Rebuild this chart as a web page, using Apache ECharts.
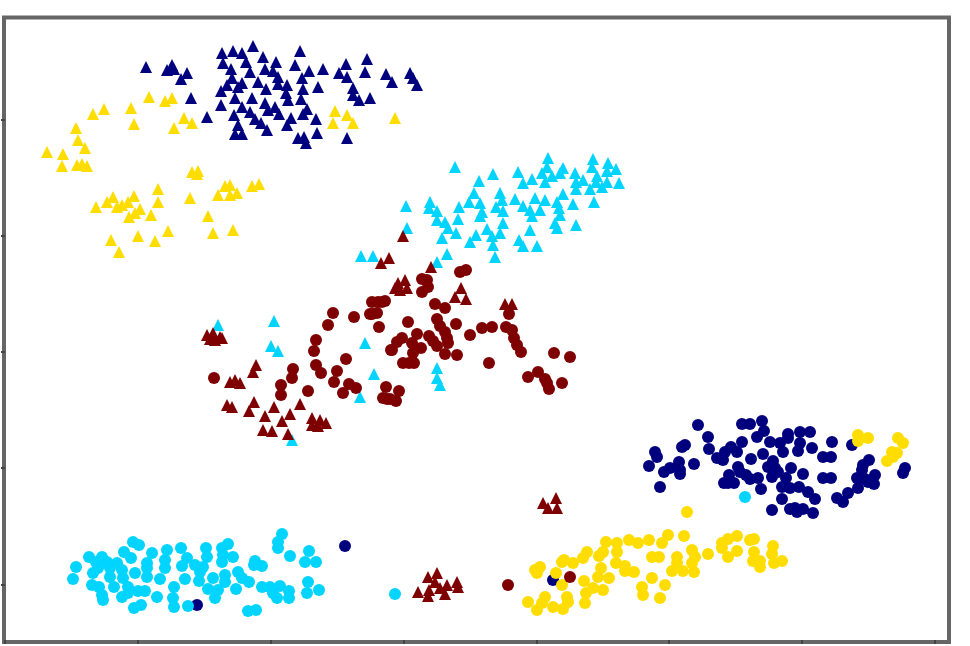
<!DOCTYPE html>
<html><head><meta charset="utf-8">
<style>html,body{margin:0;padding:0;background:#fff}#c{width:970px;height:646px;filter:blur(0.4px)}</style>
<script src="https://cdn.jsdelivr.net/npm/echarts@6/dist/echarts.min.js"></script>
</head><body><div id="c"></div>
<script>
const xTicks=[0,133,266,399,532,664,797,930];
const yTicks=[55,172,288,404,520];
const navyTriangles=[[141,573],[167,575],[162,570],[169,571],[182,567],[176,561],[186,542],[202,523],[217,587],[228,589],[237,587],[248,594],[258,583],[241,578],[218,577],[226,571],[245,568],[271,578],[260,571],[268,569],[290,575],[295,589],[304,569],[318,571],[227,562],[237,557],[233,553],[222,555],[216,549],[253,558],[261,551],[273,563],[273,556],[282,555],[281,547],[297,562],[298,551],[313,553],[283,540],[296,541],[230,542],[247,542],[216,535],[237,533],[245,528],[229,525],[260,537],[263,530],[270,533],[274,526],[302,531],[298,526],[286,522],[282,515],[311,521],[250,521],[256,517],[262,510],[233,515],[230,506],[237,506],[312,507],[293,502],[299,503],[301,497],[342,502],[341,576],[362,581],[360,568],[334,567],[342,563],[381,566],[387,558],[405,567],[408,562],[412,555],[348,552],[348,545],[354,540],[365,542]];
const yellowTriangles=[[330,529],[342,525],[328,517],[348,517],[390,522],[144,543],[160,539],[167,542],[126,532],[99,531],[88,526],[71,512],[129,516],[169,512],[179,522],[187,517],[73,500],[80,492],[42,488],[58,486],[57,474],[72,475],[77,476],[82,474],[187,468],[193,469],[192,466],[220,454],[225,455],[213,445],[225,445],[232,447],[247,454],[254,456],[185,442],[153,451],[153,438],[129,444],[123,438],[108,443],[102,438],[91,433],[112,433],[117,435],[135,431],[130,427],[124,423],[146,425],[203,424],[208,407],[228,410],[163,409],[133,404],[106,400],[150,399],[114,388]];
const cyanTriangles=[[450,473],[488,466],[474,459],[513,468],[518,457],[527,461],[537,467],[540,458],[543,482],[542,473],[547,464],[558,472],[555,467],[570,467],[571,458],[571,451],[578,460],[588,481],[587,473],[603,477],[602,469],[611,471],[592,464],[591,458],[602,458],[614,457],[597,453],[585,451],[558,446],[589,438],[568,436],[469,447],[495,447],[497,440],[510,441],[530,442],[540,440],[552,438],[554,432],[555,425],[518,434],[525,430],[527,424],[535,430],[491,433],[498,429],[475,437],[464,438],[477,428],[475,424],[454,433],[425,438],[424,432],[432,429],[401,434],[432,420],[453,421],[440,418],[443,412],[451,407],[498,417],[482,411],[495,407],[471,405],[465,398],[437,402],[402,412],[487,404],[488,395],[514,400],[518,394],[532,394],[525,410],[550,417],[552,412],[571,415],[490,383],[442,386],[432,378],[356,384],[368,384],[213,315],[269,319],[266,294],[273,289],[360,297],[369,266],[355,243],[287,200],[432,272],[432,262],[435,255]];
const maroonTriangles=[[398,404],[376,377],[384,382],[426,373],[202,305],[208,307],[215,303],[205,301],[210,300],[217,302],[225,258],[230,260],[235,257],[251,275],[248,268],[222,235],[227,233],[249,238],[244,229],[269,233],[260,224],[258,210],[267,209],[283,206],[285,226],[277,219],[295,236],[307,222],[307,215],[315,220],[313,214],[321,217],[400,360],[393,357],[390,352],[395,350],[402,352],[456,352],[450,343],[461,341],[500,336],[507,336],[432,67],[423,63],[430,58],[413,48],[423,44],[435,52],[442,55],[440,46],[452,58],[453,53],[424,50],[538,137],[551,142],[543,132],[552,132]];
const maroonCircles=[[209,262],[328,327],[349,323],[323,315],[374,313],[367,326],[372,327],[367,338],[377,338],[311,300],[309,289],[341,281],[311,275],[316,267],[332,269],[329,258],[338,247],[344,256],[351,252],[288,271],[287,262],[276,255],[276,245],[303,249],[381,253],[382,241],[387,290],[455,368],[461,370],[417,361],[422,360],[423,353],[417,348],[504,326],[430,336],[440,332],[373,338],[380,339],[365,326],[403,318],[432,321],[435,314],[451,316],[440,308],[442,302],[443,297],[465,305],[477,312],[487,313],[501,313],[507,310],[509,302],[512,295],[516,288],[549,287],[565,283],[484,277],[412,306],[397,302],[392,298],[386,290],[424,304],[428,299],[432,294],[440,286],[452,285],[407,297],[416,292],[408,287],[398,277],[404,277],[409,277],[523,263],[533,268],[540,261],[542,257],[544,251],[557,257],[394,249],[378,242],[385,241],[391,239],[503,55],[565,63]];
const navyCircles=[[340,94],[192,35],[548,60],[693,215],[703,203],[704,191],[650,188],[652,183],[644,174],[677,193],[680,195],[674,178],[689,176],[665,172],[659,168],[675,170],[675,166],[655,153],[737,216],[745,216],[757,219],[759,209],[752,203],[737,198],[726,193],[720,188],[712,182],[718,180],[732,188],[746,181],[765,198],[775,197],[783,206],[783,202],[795,208],[805,208],[795,197],[793,189],[807,192],[778,188],[758,186],[827,198],[847,195],[818,183],[826,183],[768,179],[763,173],[770,172],[733,173],[735,168],[741,165],[724,165],[745,161],[753,162],[719,157],[723,157],[729,157],[767,163],[773,168],[781,162],[786,172],[798,166],[756,151],[777,153],[785,152],[794,153],[803,148],[810,141],[777,141],[767,130],[785,131],[790,132],[798,131],[792,128],[808,127],[818,162],[826,162],[832,142],[838,138],[843,147],[853,152],[852,162],[857,170],[858,175],[864,180],[860,161],[870,165],[869,156],[863,158],[900,172],[898,167]];
const cyanCircles=[[390,46],[740,143],[277,106],[273,98],[273,92],[285,84],[304,89],[300,78],[311,78],[250,79],[257,74],[249,75],[128,98],[134,95],[119,88],[147,87],[84,83],[97,83],[91,78],[102,78],[112,77],[126,82],[142,77],[162,90],[160,80],[160,72],[176,92],[182,82],[177,74],[201,92],[202,83],[190,75],[198,73],[195,68],[223,96],[217,92],[218,85],[228,83],[217,78],[71,73],[68,61],[88,67],[93,72],[105,72],[105,63],[117,70],[118,62],[130,67],[142,72],[142,63],[155,61],[180,61],[194,59],[208,62],[220,65],[220,58],[233,68],[237,62],[244,58],[87,55],[94,53],[109,53],[123,53],[123,47],[117,43],[133,49],[140,49],[97,45],[98,40],[152,43],[169,53],[168,42],[169,33],[129,32],[136,35],[183,34],[203,51],[213,50],[210,42],[231,51],[257,53],[265,53],[275,54],[268,47],[272,42],[284,49],[284,42],[303,58],[302,47],[314,50],[243,29],[251,30]];
const yellowCircles=[[682,128],[663,105],[679,104],[624,100],[644,100],[633,97],[657,97],[601,98],[612,97],[612,88],[598,88],[594,84],[582,88],[578,82],[559,80],[568,77],[557,78],[535,73],[530,70],[532,67],[551,67],[557,55],[579,59],[596,72],[593,63],[604,62],[588,52],[598,50],[581,47],[580,37],[611,77],[620,74],[620,69],[629,68],[647,62],[637,53],[638,45],[660,55],[655,42],[647,83],[654,83],[672,83],[672,77],[667,69],[678,69],[689,68],[687,90],[690,83],[687,77],[703,86],[717,97],[723,101],[732,104],[717,92],[723,83],[732,89],[745,100],[749,101],[749,88],[748,79],[755,79],[755,73],[768,94],[767,86],[769,77],[777,79],[523,38],[540,43],[537,37],[532,30],[548,33],[558,31],[562,43],[563,38],[853,205],[853,199],[863,202],[893,202],[898,197],[887,188],[892,187],[888,183],[882,179]];

const NAVY='#00007f',CYAN='#00d4ff',YELLOW='#ffdd00',MAROON='#7f0000';
const layers=[
 [navyTriangles,'triangle',NAVY,12],[yellowTriangles,'triangle',YELLOW,12],
 [cyanTriangles,'triangle',CYAN,12],[maroonTriangles,'triangle',MAROON,12],
 [navyCircles,'circle',NAVY,12],[cyanCircles,'circle',CYAN,12],
 [yellowCircles,'circle',YELLOW,12],[maroonCircles,'circle',MAROON,12]];
const chart=echarts.init(document.getElementById('c'),null,{renderer:'canvas'});
const tick={show:true,inside:false,length:4,lineStyle:{color:'#444',width:2}};
chart.setOption({
 animation:false,
 grid:{left:4,top:17.5,width:945,height:624.5,show:true,borderColor:'#666',borderWidth:4,backgroundColor:'#fff'},
 xAxis:{type:'value',min:-1,max:944,axisLine:{show:false},splitLine:{show:false},axisLabel:{show:false},axisTick:{...tick,customValues:xTicks}},
 yAxis:{type:'value',min:-2,max:622.5,axisLine:{show:false},splitLine:{show:false},axisLabel:{show:false},axisTick:{...tick,customValues:yTicks}},
 series:layers.map(([d,s,c,z])=>({type:'scatter',data:d,symbol:s,symbolSize:z,itemStyle:{color:c,opacity:1},silent:true}))
});
</script></body></html>
